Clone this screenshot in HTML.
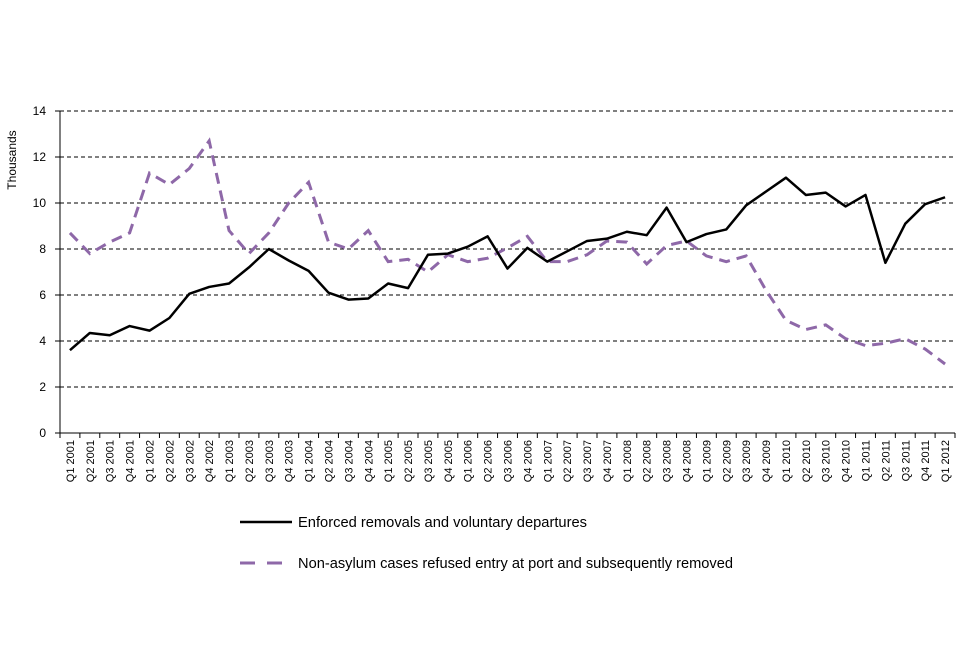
<!DOCTYPE html>
<html><head><meta charset="utf-8"><style>
body{margin:0;background:#fff;}
svg text{font-family:"Liberation Sans",Arial,sans-serif;fill:#000;}
</style></head><body>
<svg id="chart" width="960" height="640"></svg>
<script>
const categories=[];
const years=[2001,2002,2003,2004,2005,2006,2007,2008,2009,2010,2011,2012];
for(const y of years){for(let q=1;q<=4;q++){if(y===2012&&q>1)break;categories.push('Q'+q+' '+y);}}
const enforced=[3.6,4.35,4.25,4.65,4.45,5.0,6.05,6.35,6.5,7.2,8.0,7.5,7.05,6.1,5.8,5.85,6.5,6.3,7.75,7.8,8.1,8.55,7.15,8.05,7.45,7.9,8.35,8.45,8.75,8.6,9.8,8.3,8.65,8.85,9.9,10.5,11.1,10.35,10.45,9.85,10.35,7.4,9.1,9.95,10.25];
const nonAsylum=[8.7,7.8,8.3,8.7,11.3,10.8,11.5,12.7,8.8,7.8,8.7,10.0,10.9,8.3,8.0,8.8,7.45,7.55,7.0,7.75,7.45,7.6,8.05,8.55,7.45,7.45,7.75,8.35,8.3,7.35,8.15,8.35,7.7,7.45,7.7,6.2,4.9,4.5,4.7,4.1,3.8,3.9,4.1,3.65,3.0];
const yTicks=[0,2,4,6,8,10,12,14];
const NS='http://www.w3.org/2000/svg';
const svg=document.getElementById('chart');
const L=60,R=955,T=111,B=433,YMAX=14;
const bw=(R-L)/categories.length;
const x=i=>L+bw*(i+0.5);
const y=v=>B-(v/YMAX)*(B-T);
function mk(tag,attrs,parent){const e=document.createElementNS(NS,tag);for(const k in attrs)e.setAttribute(k,attrs[k]);(parent||svg).appendChild(e);return e;}
yTicks.forEach(t=>{
  if(t>0){const g=mk('line',{x1:L,x2:R,y1:y(t),y2:y(t),stroke:'#000','stroke-width':1,'stroke-dasharray':'4,3'});
  
  }
  const tk=mk('line',{x1:L-5,x2:L,y1:y(t),y2:y(t),stroke:'#000'});
  
  
  const tx=mk('text',{x:46,y:y(t)+4,'text-anchor':'end','font-size':12});tx.textContent=t;
  
  
});
const ya=mk('line',{x1:L,x2:L,y1:T,y2:B,stroke:'#000'});


const xa=mk('line',{x1:L,x2:R,y1:B,y2:B,stroke:'#000'});


for(let i=0;i<=categories.length;i++){
  const tk=mk('line',{x1:L+bw*i,x2:L+bw*i,y1:B,y2:B+5,stroke:'#000'});
  
  
}
categories.forEach((c,i)=>{
  const tx=mk('text',{x:0,y:0,'text-anchor':'end','font-size':11,transform:`translate(${x(i)+4},440) rotate(-90)`});
  tx.textContent=c;
  
  
});
const yt=mk('text',{x:0,y:0,'text-anchor':'middle','font-size':12,transform:'translate(16,160) rotate(-90)'});
yt.textContent='Thousands';


const p2=mk('polyline',{points:nonAsylum.map((v,i)=>x(i)+','+y(v)).join(' '),fill:'none',stroke:'#8e68a8','stroke-width':3,'stroke-dasharray':'11,7'});


const p1=mk('polyline',{points:enforced.map((v,i)=>x(i)+','+y(v)).join(' '),fill:'none',stroke:'#000','stroke-width':2.5,'stroke-linejoin':'round'});


const l1=mk('line',{x1:240,x2:292,y1:522,y2:522,stroke:'#000','stroke-width':2.5});


const t1=mk('text',{x:298,y:527,'font-size':14.5,textLength:289,lengthAdjust:'spacingAndGlyphs'});t1.textContent='Enforced removals and voluntary departures';


const l2=mk('line',{x1:240,x2:282,y1:563,y2:563,stroke:'#8e68a8','stroke-width':3,'stroke-dasharray':'15,12'});


const t2=mk('text',{x:298,y:568,'font-size':14.5,textLength:435,lengthAdjust:'spacingAndGlyphs'});t2.textContent='Non-asylum cases refused entry at port and subsequently removed';


</script>
</body></html>
